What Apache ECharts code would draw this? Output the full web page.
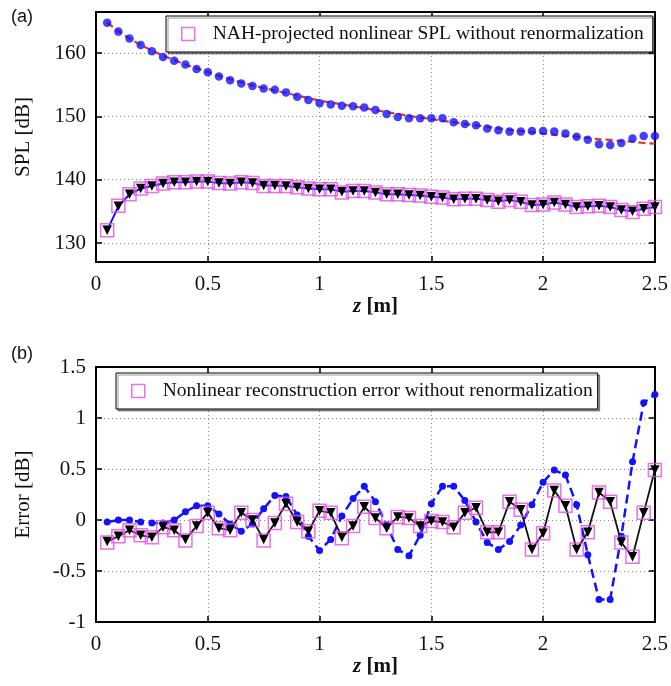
<!DOCTYPE html>
<html>
<head>
<meta charset="utf-8">
<script src="https://cdn.jsdelivr.net/npm/echarts@6/dist/echarts.min.js"></script>
<style>
html,body{margin:0;padding:0;background:#fff;}
#chart{width:671px;height:686px;}
</style>
</head>
<body>
<div id="chart"></div>
<script>
// ---- data ----
const zPos = [0.05,0.10,0.15,0.20,0.25,0.30,0.35,0.40,0.45,0.50,0.55,0.60,0.65,0.70,0.75,0.80,0.85,0.90,0.95,1.00,
  1.05,1.10,1.15,1.20,1.25,1.30,1.35,1.40,1.45,1.50,1.55,1.60,1.65,1.70,1.75,1.80,1.85,1.90,1.95,2.00,
  2.05,2.10,2.15,2.20,2.25,2.30,2.35,2.40,2.45,2.50];

// (a) upper: blue dots
const splLinearDots = [164.8,163.4,162.3,161.3,160.3,159.4,158.8,158.2,157.5,157.0,156.3,155.7,155.2,154.8,154.4,154.2,153.8,
  153.1,152.6,152.1,151.9,151.7,151.6,151.4,151.0,150.4,149.9,149.7,149.7,149.7,149.7,149.1,148.8,148.6,
  148.1,147.8,147.6,147.6,147.7,147.7,147.6,147.3,146.8,146.3,145.6,145.5,145.8,146.5,146.9,146.9];
// (a) upper: red dashed curve
const splLinearFit = [164.8,163.5,162.3,161.3,160.4,159.6,158.9,158.2,157.6,157.0,156.4,155.9,155.4,154.9,154.5,154.1,153.7,
  153.3,152.9,152.5,152.2,151.9,151.6,151.3,151.0,150.7,150.4,150.1,149.8,149.6,149.3,149.1,148.8,148.6,
  148.4,148.1,147.9,147.7,147.5,147.3,147.1,146.9,146.8,146.6,146.4,146.3,146.1,146.0,145.8,145.7];
// (a) lower: black triangles on blue line
const splNonlinearTri = [132.0,135.8,137.7,138.6,139.0,139.4,139.6,139.6,139.7,139.7,139.5,139.4,139.6,139.5,139.1,139.1,139.0,
  138.8,138.6,138.5,138.5,138.1,138.2,138.2,138.0,137.7,137.7,137.6,137.5,137.3,137.2,136.9,137.0,137.0,
  136.8,136.6,136.8,136.5,136.0,136.1,136.4,136.1,135.7,135.8,135.9,135.7,135.2,135.0,135.4,135.7];
// (a) lower: magenta squares (NAH-projected)
const splNahSquares = [132.0,135.9,137.7,138.6,139.0,139.4,139.6,139.6,139.7,139.7,139.5,139.4,139.6,139.5,139.0,139.0,139.0,
  138.8,138.6,138.5,138.5,138.0,138.2,138.2,138.0,137.7,137.7,137.6,137.5,137.3,137.2,136.9,137.0,137.0,
  136.8,136.5,136.8,136.5,136.0,136.1,136.4,136.1,135.7,135.8,135.9,135.7,135.2,134.9,135.4,135.7];

// (b) blue dashed with dots
const errLinear = [-0.02,0.00,0.00,-0.02,-0.03,-0.03,0.00,0.08,0.14,0.14,0.06,-0.04,-0.11,-0.04,0.11,0.24,0.23,
  0.05,-0.16,-0.30,-0.19,0.04,0.21,0.33,0.18,-0.05,-0.29,-0.35,-0.15,0.16,0.33,0.33,0.19,-0.02,
  -0.22,-0.29,-0.21,-0.05,0.15,0.37,0.49,0.44,0.15,-0.34,-0.78,-0.78,-0.16,0.57,1.15,1.23];
// (b) black triangles on black line
const errNonlinearTri = [-0.21,-0.16,-0.10,-0.15,-0.17,-0.07,-0.10,-0.19,-0.06,0.07,-0.08,-0.10,0.07,0.00,-0.19,-0.03,0.16,
  -0.02,-0.11,0.09,0.07,-0.17,-0.06,0.13,0.02,-0.08,0.03,0.02,-0.06,-0.01,-0.02,-0.07,0.07,0.12,
  -0.12,-0.12,0.18,0.10,-0.29,-0.13,0.29,0.14,-0.29,-0.12,0.27,0.18,-0.22,-0.36,0.07,0.49];
// (b) magenta squares
const errNahSquares = [-0.22,-0.16,-0.10,-0.15,-0.17,-0.07,-0.10,-0.20,-0.06,0.07,-0.08,-0.10,0.07,0.00,-0.20,-0.03,0.16,
  -0.02,-0.11,0.09,0.07,-0.18,-0.06,0.13,0.02,-0.08,0.03,0.02,-0.06,-0.01,-0.02,-0.07,0.07,0.12,
  -0.12,-0.12,0.18,0.10,-0.29,-0.13,0.29,0.14,-0.29,-0.12,0.27,0.18,-0.22,-0.36,0.07,0.49];

const xTicks = [0, 2.5, 0.5];          // min, max, interval
const yTicksA = [127, 166.5, 10];      // range and label step of (a)
const yTicksB = [-1, 1.5, 0.5];        // range and interval of (b)

const legendA = 'NAH-projected nonlinear SPL without renormalization';
const legendB = 'Nonlinear reconstruction error without renormalization';

// ---- styling ----
const SERIF = '"Liberation Serif", "DejaVu Serif", serif';
const BLUE = '#1212ff', RED = '#e3342a', MAG = '#e14ce6', BLACK = '#000';
const pair = (ys) => zPos.map((x, i) => [x, ys[i]]);

function xAxes(gi) {
  const common = {
    type: 'value', gridIndex: gi, min: xTicks[0], max: xTicks[1], interval: xTicks[2],
    axisLine: {show: true, onZero: false, lineStyle: {color: BLACK, width: 2}},
    axisTick: {show: true, inside: true, length: 6, lineStyle: {color: BLACK, width: 1.5}},
  };
  return [
    Object.assign({}, common, {
      position: 'bottom',
      name: '{i|z} {b|[m]}', nameLocation: 'middle', nameGap: 32,
      nameTextStyle: {fontFamily: SERIF, fontSize: 21, color: '#111',
        rich: {i: {fontFamily: SERIF, fontSize: 21, fontStyle: 'italic', fontWeight: 'bold', color: '#111'},
               b: {fontFamily: SERIF, fontSize: 21, fontWeight: 'bold', color: '#111'}}},
      axisLabel: {show: true, margin: 12, fontFamily: SERIF, fontSize: 21, color: '#111'},
      splitLine: {show: true, lineStyle: {color: '#8a8a8a', width: 1, type: [1, 3]}}
    }),
    Object.assign({}, common, {position: 'top', axisLabel: {show: false}, splitLine: {show: false}})
  ];
}

function yAxes(gi, rng, name, fmt, useInterval) {
  const common = {
    type: 'value', gridIndex: gi, min: rng[0], max: rng[1],
    axisLine: {show: true, onZero: false, lineStyle: {color: BLACK, width: 2}},
    axisTick: {show: true, inside: true, length: 6, lineStyle: {color: BLACK, width: 1.5}},
  };
  if (useInterval) common.interval = rng[2];
  return [
    Object.assign({}, common, {
      position: 'left',
      name: name, nameLocation: 'middle', nameGap: 62, nameRotate: 90,
      nameTextStyle: {fontFamily: SERIF, fontSize: 21, color: '#111'},
      axisLabel: {show: true, margin: 10, fontFamily: SERIF, fontSize: 21, color: '#111', formatter: fmt},
      splitLine: {show: true, lineStyle: {color: '#8a8a8a', width: 1, type: [1, 3]}}
    }),
    Object.assign({}, common, {position: 'right', axisLabel: {show: false}, splitLine: {show: false}})
  ];
}

const fmtA = (v) => (Math.abs(v % yTicksA[2]) < 1e-6 ? String(v) : '');
const fmtB = (v) => String(Math.round(v * 10) / 10);

const legendCommon = {
  orient: 'horizontal', itemWidth: 13, itemHeight: 13,
  backgroundColor: '#fff', borderColor: '#000', borderWidth: 1, borderRadius: 0,
  shadowColor: 'rgba(0,0,0,0.4)', shadowOffsetX: 2, shadowOffsetY: 2, shadowBlur: 0,
  textStyle: {fontFamily: SERIF, fontSize: 19.5, color: '#111', padding: [0, 0, 0, 13]},
  selectedMode: false
};
const legendIcon = {icon: 'rect', itemStyle: {color: 'rgba(0,0,0,0)', borderColor: MAG, borderWidth: 1.5}};

const option = {
  animation: false,
  backgroundColor: '#fff',
  title: [
    {text: '(a)', left: 6, top: 3, textStyle: {fontFamily: '"Liberation Sans", Arial, sans-serif', fontSize: 18, fontWeight: 'normal', color: '#111'}},
    {text: '(b)', left: 6, top: 340, textStyle: {fontFamily: '"Liberation Sans", Arial, sans-serif', fontSize: 18, fontWeight: 'normal', color: '#111'}}
  ],
  legend: [
    Object.assign({}, legendCommon, {left: 166, top: 16, padding: [8, 9, 8, 15], data: [Object.assign({name: legendA}, legendIcon)]}),
    Object.assign({}, legendCommon, {left: 116, top: 373, padding: [8, 5, 8, 15], data: [Object.assign({name: legendB}, legendIcon)]})
  ],
  grid: [
    {left: 96, right: 16, top: 12, height: 250, containLabel: false},
    {left: 96, right: 16, top: 367, height: 255, containLabel: false}
  ],
  xAxis: [].concat(xAxes(0), xAxes(1)),
  yAxis: [].concat(yAxes(0, yTicksA, 'SPL [dB]', fmtA, false), yAxes(1, yTicksB, 'Error [dB]', fmtB, true)),
  series: [
    {type: 'line', name: 'fit', xAxisIndex: 0, yAxisIndex: 0, data: pair(splLinearFit), showSymbol: false, symbol: 'none',
     lineStyle: {color: RED, width: 2.2, type: [7, 4]}, z: 2},
    {type: 'scatter', name: 'linear', xAxisIndex: 0, yAxisIndex: 0, data: pair(splLinearDots), symbol: 'circle', symbolSize: 8.5,
     itemStyle: {color: BLUE}, z: 3},
    {type: 'line', name: 'nonlinear', xAxisIndex: 0, yAxisIndex: 0, data: pair(splNonlinearTri), symbol: 'triangle', symbolRotate: 180, symbolSize: 9.5,
     showAllSymbol: true, lineStyle: {color: BLUE, width: 2}, itemStyle: {color: BLACK}, z: 4},
    {type: 'scatter', name: legendA, xAxisIndex: 0, yAxisIndex: 0, data: pair(splNahSquares), symbol: 'rect', symbolSize: 13,
     itemStyle: {color: 'rgba(0,0,0,0)', borderColor: MAG, borderWidth: 1.5}, z: 5},

    {type: 'line', name: 'errLinear', xAxisIndex: 2, yAxisIndex: 2, data: pair(errLinear), symbol: 'circle', symbolSize: 7, showAllSymbol: true,
     lineStyle: {color: BLUE, width: 2.5, type: [9, 5]}, itemStyle: {color: BLUE}, z: 2},
    {type: 'line', name: 'errNonlinear', xAxisIndex: 2, yAxisIndex: 2, data: pair(errNonlinearTri), symbol: 'triangle', symbolRotate: 180, symbolSize: 9.5,
     showAllSymbol: true, lineStyle: {color: '#111', width: 1.8}, itemStyle: {color: BLACK}, z: 3},
    {type: 'scatter', name: legendB, xAxisIndex: 2, yAxisIndex: 2, data: pair(errNahSquares), symbol: 'rect', symbolSize: 13,
     itemStyle: {color: 'rgba(0,0,0,0)', borderColor: MAG, borderWidth: 1.5}, z: 4}
  ]
};

const chart = echarts.init(document.getElementById('chart'), null, {renderer: 'canvas'});
chart.setOption(option);
</script>
</body>
</html>
